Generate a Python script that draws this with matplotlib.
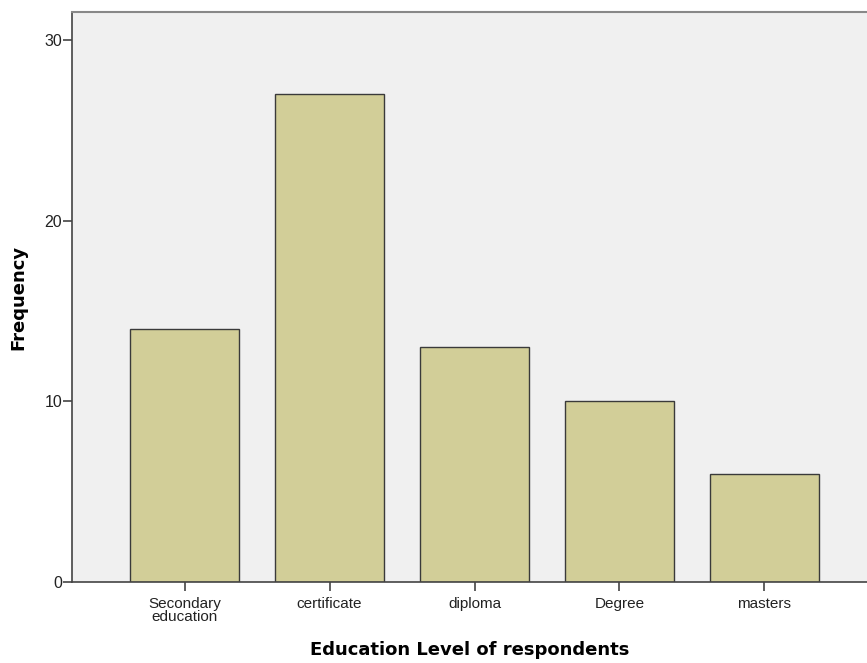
import matplotlib
matplotlib.use("Agg")
import matplotlib.pyplot as plt

categories = ["Secondary\neducation", "certificate", "diploma", "Degree", "masters"]
frequencies = [14, 27, 13, 10, 6]
yticks = [0, 10, 20, 30]

fig = plt.figure(figsize=(8.67, 6.63), dpi=100)
ax = fig.add_axes([72/867, 1-582/663, 1-72/867, (582-12)/663])
ax.set_facecolor("#f0f0f0")

x = list(range(len(categories)))
ax.bar(x, frequencies, width=0.752, color="#d2ce98", edgecolor="#3a3a3a", linewidth=1.0, zorder=2)

ax.set_xlim(-0.776, 4.707)
ax.set_ylim(0, 31.55)
ax.set_xticks(x)
ax.set_xticklabels(categories, family="Liberation Sans", fontsize=11, linespacing=0.95, color="#222222")
ax.set_yticks(yticks)
ax.set_yticklabels([str(v) for v in yticks], family="Liberation Sans", fontsize=11.5, color="#222222")
ax.tick_params(axis="y", length=6.5, width=1.2, color="#444444", pad=0.5)
ax.tick_params(axis="x", length=6.5, width=1.2, color="#444444", pad=4)

ax.spines["right"].set_visible(False)
ax.spines["top"].set_color("#888888")
ax.spines["top"].set_linewidth(1.5)
for s in ["left", "bottom"]:
    ax.spines[s].set_color("#444444")
    ax.spines[s].set_linewidth(1.2)

ax.set_xlabel("Education Level of respondents", fontsize=13, fontweight="bold", family="DejaVu Sans", labelpad=12)
ax.set_ylabel("Frequency", fontsize=13, fontweight="bold", family="DejaVu Sans", labelpad=12)

fig.savefig("out.png", dpi=100)
